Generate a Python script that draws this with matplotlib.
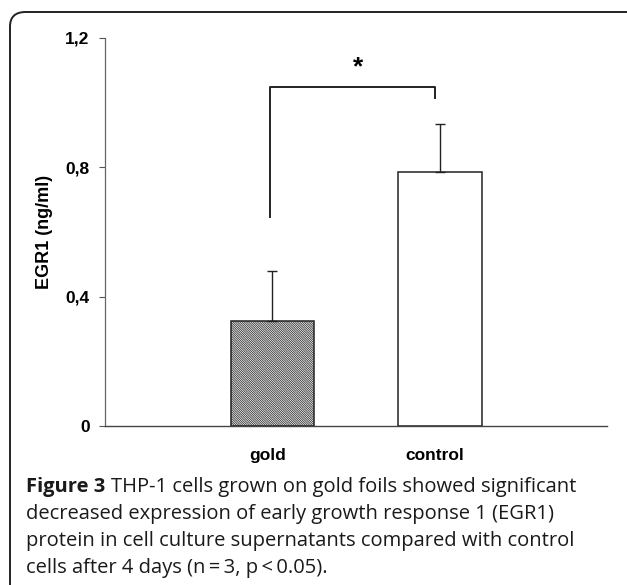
import matplotlib.pyplot as plt
from matplotlib.patches import FancyBboxPatch

# data
groups = ['gold', 'control']
egr1 = [0.325, 0.785]
egr1_sd = [0.155, 0.15]
yticks = [0, 0.4, 0.8, 1.2]
ytick_labels = ['0', '0,4', '0,8', '1,2']

plt.rcParams['font.family'] = ['Liberation Sans', 'DejaVu Sans']
plt.rcParams['hatch.linewidth'] = 0.6

fig = plt.figure(figsize=(6.27, 5.85), dpi=100)
W, H = 627, 585

# frame with rounded corner, cut off at right and bottom
frame = FancyBboxPatch((10 / W, -20 / H), 660 / W, (H - 12 + 20) / H,
                       boxstyle='round,pad=0,rounding_size=0.025',
                       transform=fig.transFigure, fill=False,
                       edgecolor='#222222', linewidth=1.4)
fig.patches.append(frame)

ax = fig.add_axes([105 / W, 1 - 426 / H, (607 - 105) / W, (426 - 38) / H])
x = [1, 2]
# hatched fill, outline drawn separately in black
ax.bar(x[0], egr1[0], width=0.5, color='white', edgecolor='#333333',
       linewidth=0, hatch='\\' * 15, zorder=2)
ax.bar(x, egr1, width=0.5, fill=False, edgecolor='#222222',
       linewidth=1.1, zorder=2)
ax.errorbar(x, egr1, yerr=[[0, 0], egr1_sd], fmt='none', ecolor='#222222',
            elinewidth=1.0, capsize=3.5, capthick=1.0, zorder=3)

# significance bracket
ax.plot([0.985, 0.985, 1.975, 1.975], [0.645, 1.048, 1.048, 1.013],
        color='#222222', linewidth=1.4)
ax.text(1.51, 1.11, '*', ha='center', va='center', fontsize=19,
        fontweight='bold')

ax.set_xlim(0, 3)
ax.set_ylim(0, 1.2)
ax.set_yticks(yticks)
ax.set_yticklabels(ytick_labels, fontsize=12.5, fontweight='bold')
ax.set_xticks([0.97, 1.97])
ax.set_xticklabels(groups, fontsize=12.5, fontweight='bold')
ax.tick_params(axis='x', length=0, pad=16)
ax.tick_params(axis='y', length=4, width=0.8, color='#555555', pad=7)
for s in ['top', 'right']:
    ax.spines[s].set_visible(False)
ax.spines['left'].set_color('#666666')
ax.spines['left'].set_linewidth(0.9)
ax.spines['bottom'].set_color('#444444')
ax.spines['bottom'].set_linewidth(1.0)
ax.set_ylabel('EGR1 (ng/ml)', fontsize=13, fontweight='bold', labelpad=9)

# caption
cap_font = ['Open Sans', 'DejaVu Sans']
cap_size = 14.5
lines = [
    'THP-1 cells grown on gold foils showed significant',
    'decreased expression of early growth response 1 (EGR1)',
    'protein in cell culture supernatants compared with control',
    'cells after 4 days (n\u2009=\u20093, p\u2009<\u20090.05).',
]
t = fig.text(26 / W, 1 - 487 / H, 'Figure 3 ', family=cap_font, fontsize=cap_size,
             fontweight='bold', va='center', color='#1a1a1a')
fig.canvas.draw()
bb = t.get_window_extent()
fig.text(bb.x1 / W, 1 - 487 / H, lines[0], family=cap_font, fontsize=cap_size,
         va='center', color='#1a1a1a')
for i, ln in enumerate(lines[1:]):
    fig.text(26 / W, 1 - (514 + 27 * i) / H, ln, family=cap_font,
             fontsize=cap_size, va='center', color='#1a1a1a')

fig.savefig('out.png', dpi=100)
